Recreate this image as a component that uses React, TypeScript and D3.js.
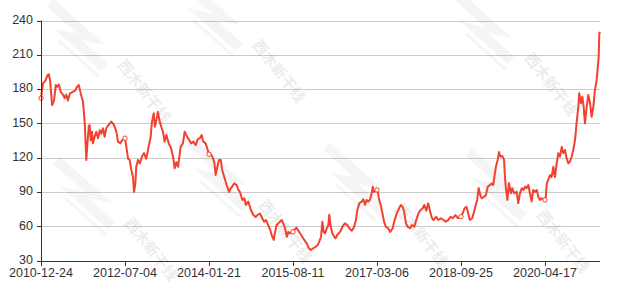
import React from 'react';
import * as d3 from 'd3';

const tickLabels = ['2010-12-24', '2012-07-04', '2014-01-21', '2015-08-11', '2017-03-06', '2018-09-25', '2020-04-17'];
const tickStep = 380;
const totalDays = 2530;
const yTicks = [30, 60, 90, 120, 150, 180, 210, 240];

const dayIndex = [
  0, 9, 19, 29, 35, 41, 50, 59, 67, 74, 81, 89, 100, 107, 114, 122, 130, 145, 155, 163, 171, 180, 190, 198, 205, 209,
  216, 220, 225, 231, 235, 243, 250, 258, 266, 273, 280, 288, 295, 306, 318, 330, 341, 348, 359, 366, 380, 386, 394,
  401, 409, 416, 421, 427, 431, 439, 447, 457, 466, 476, 487, 496, 502, 510, 515, 522, 529, 537, 544, 552, 559, 567,
  578, 589, 597, 605, 612, 620, 632, 642, 650, 662, 679, 689, 700, 709, 719, 727, 734, 745, 760, 765, 775, 784, 790,
  798, 805, 813, 820, 829, 840, 851, 858, 865, 874, 885, 893, 900, 911, 920, 927, 938, 950, 960, 971, 980, 991, 1001,
  1010, 1018, 1028, 1037, 1046, 1053, 1059, 1066, 1074, 1081, 1089, 1096, 1104, 1112, 1119, 1126, 1140, 1145, 1156,
  1161, 1172, 1182, 1191, 1202, 1212, 1221, 1232, 1243, 1252, 1259, 1267, 1273, 1279, 1285, 1293, 1300, 1304, 1311,
  1318, 1327, 1333, 1340, 1353, 1365, 1375, 1386, 1395, 1406, 1416, 1425, 1431, 1440, 1451, 1458, 1466, 1473, 1481,
  1488, 1496, 1501, 1506, 1520, 1525, 1530, 1537, 1545, 1552, 1560, 1571, 1580, 1591, 1598, 1609, 1618, 1628, 1636,
  1643, 1651, 1659, 1670, 1679, 1689, 1698, 1707, 1716, 1727, 1734, 1743, 1752, 1761, 1769, 1776, 1787, 1797, 1809,
  1821, 1831, 1842, 1853, 1863, 1875, 1886, 1900, 1905, 1916, 1925, 1933, 1940, 1951, 1961, 1973, 1980, 1987, 1994,
  2005, 2013, 2021, 2031, 2039, 2046, 2051, 2058, 2066, 2072, 2078, 2087, 2095, 2099, 2104, 2110, 2117, 2126, 2132,
  2141, 2152, 2159, 2167, 2175, 2182, 2190, 2197, 2205, 2212, 2220, 2227, 2235, 2243, 2250, 2257, 2265, 2280, 2284,
  2288, 2295, 2303, 2310, 2318, 2325, 2333, 2340, 2348, 2356, 2363, 2371, 2378, 2386, 2393, 2401, 2408, 2416, 2423,
  2431, 2435, 2443, 2449, 2455, 2461, 2469, 2476, 2484, 2491, 2499, 2506, 2514, 2518, 2523, 2526, 2529,
];

const price = [
  172, 185, 187, 192, 193, 188, 166, 170, 183.6, 182, 184, 177.7, 175, 172, 175, 170, 176, 177.7, 178.6, 182, 183.6,
  176, 169, 150, 118, 129.6, 147, 148.6, 135, 142.7, 132.5, 138.3, 142.7, 137, 144, 141, 145.7, 138.3, 145.7, 148.6,
  151.5, 148.6, 142.7, 134, 132.5, 135, 137, 129.6, 119, 118, 109, 103, 90, 97.5, 112, 118, 115, 121, 124, 119, 129.6,
  138, 151.5, 158.8, 147, 153, 160, 151.5, 147, 142.7, 134, 139.8, 132.5, 128, 121, 110.7, 116, 112, 129.6, 132.5,
  142.7, 138, 132.5, 134, 131, 136, 137, 139.8, 134, 132.5, 123, 124, 121, 116, 104.8, 112, 118, 118, 109, 103, 96,
  90, 93, 94.6, 97.5, 96, 91.7, 90, 83, 84.4, 78.6, 81.5, 74, 70, 68, 70, 71, 67, 64, 65.4, 61, 56.7, 50.8, 48, 55,
  61, 62.5, 64, 65.4, 62.5, 58.2, 50.8, 55, 53.8, 55, 56.7, 58.7, 57, 53.8, 50.8, 48, 45, 40.7, 39.2, 40.7, 42, 43.6,
  46.5, 50.8, 64, 55, 53.8, 58.2, 61, 70, 59.5, 53.8, 50.8, 49.4, 52.3, 55, 60, 62.5, 61, 58.2, 56, 59, 65.4, 74, 80,
  81.5, 83.5, 78.6, 83, 81.5, 83, 88.8, 94.6, 90, 91.7, 88.8, 83, 78.6, 71, 64, 59.5, 58.2, 55, 58.2, 64, 71, 74.8,
  78.6, 77, 72.7, 62.5, 59.5, 58.2, 61, 59.5, 65.4, 71, 74, 75.7, 78.6, 73.6, 80, 72.7, 67, 65.4, 68.3, 65.4, 67,
  65.4, 64, 65.4, 68.3, 67, 69.8, 67, 68.3, 69.8, 75.7, 77, 71, 65.4, 67, 74, 83, 93.5, 87.3, 84.4, 85.8, 87.3, 94.6,
  96, 97.5, 96, 103, 112, 118, 125, 121, 121.5, 118, 103, 91.7, 83, 97.5, 88.8, 93.2, 88.8, 90, 80, 88.8, 93.2, 91.7,
  94.6, 93.2, 96, 88.8, 81.5, 91.7, 90, 91.7, 85.8, 83, 84.4, 83, 85.8, 97.5, 100.4, 104.8, 103, 112, 103, 115, 123.8,
  121, 129.6, 123.8, 126.7, 119.4, 115, 116.5, 121, 126.7, 135.4, 150, 164.6, 176.3, 167.6, 173.3, 164.6, 150, 164.6,
  174.8, 167.6, 155.8, 164.6, 179, 188, 196.7, 208, 228.8, 230,
];

const watermarks: [number, number][] = [
  [143, 92], [278, 72], [550, 85], [150, 250], [284, 232], [420, 236], [562, 242],
];

const W = 617;
const H = 288;
const left = 41;
const right = 600;
const top = 20.5;
const bottom = 260.5;

export default function App() {
  const x = d3.scaleLinear().domain([0, totalDays - 1]).range([left, right]);
  const y = d3.scaleLinear().domain([30, 240]).range([bottom, top]);
  const pts = dayIndex.map((d, i) => [d, price[i]] as [number, number]);
  const line = d3
    .line<[number, number]>()
    .x((d) => x(d[0]))
    .y((d) => y(d[1]));
  const ticks = tickLabels.map((lab, i) => ({ lab, idx: i * tickStep }));
  const font = '"Liberation Sans", Arial, sans-serif';

  return (
    <svg width={W} height={H} style={{ position: 'absolute', left: 0, top: 0, background: '#fff' }}>
      <rect x={0} y={0} width={W} height={H} fill="#fff" />
      {/* grid */}
      {yTicks.slice(1).map((t) => (
        <line key={t} x1={left} x2={right} y1={Math.round(y(t)) + 0.5} y2={Math.round(y(t)) + 0.5} stroke="#ccc" />
      ))}
      {/* watermarks */}
      {watermarks.map(([cx, cy], i) => (
        <g key={i}>
          <g transform={`translate(${cx - 68},${cy - 55}) rotate(42)`} opacity={0.035} fill="#000">
            <polygon points="-42,-14 28,-14 6,-2 42,-2 42,8 -22,8 0,-4 -42,-4" />
            <polygon points="-10,12 44,12 44,15 -10,15" />
          </g>
          <text
            transform={`translate(${cx},${cy}) rotate(52)`}
            textAnchor="middle"
            dominantBaseline="middle"
            fontSize={15}
            fontWeight="bold"
            fontFamily='"Noto Sans CJK SC", sans-serif'
            fill="#000"
            opacity={0.07}
          >
            西木新干线
          </text>
        </g>
      ))}
      {/* line */}
      <path d={line(pts) || ''} fill="none" stroke="#f2412f" strokeWidth={2} strokeLinejoin="round" />
      {/* symbols at labelled points */}
      {ticks.map(({ idx }) => {
        const k = dayIndex.indexOf(idx);
        if (k < 0) return null;
        return <circle key={idx} cx={x(idx)} cy={y(price[k])} r={2.2} fill="#fff" stroke="#f2412f" strokeWidth={1} />;
      })}
      {/* y axis */}
      <line x1={left + 0.5} x2={left + 0.5} y1={top} y2={bottom + 0.5} stroke="#333" />
      {yTicks.map((t) => (
        <g key={t}>
          <line x1={left - 4} x2={left} y1={Math.round(y(t)) + 0.5} y2={Math.round(y(t)) + 0.5} stroke="#333" />
          <text x={left - 8} y={y(t)} textAnchor="end" dominantBaseline="middle" fontSize={12.5} fontFamily={font} fill="#333">
            {t}
          </text>
        </g>
      ))}
      {/* x axis */}
      <line x1={left} x2={right} y1={Math.round(bottom) + 0.5} y2={Math.round(bottom) + 0.5} stroke="#333" />
      {ticks.map(({ lab, idx }) => (
        <g key={lab}>
          <line
            x1={Math.round(x(idx)) + 0.5}
            x2={Math.round(x(idx)) + 0.5}
            y1={Math.round(bottom) + 0.5}
            y2={Math.round(bottom) + 5}
            stroke="#333"
          />
          <text x={x(idx)} y={277} textAnchor="middle" fontSize={12.5} fontFamily={font} fill="#333">
            {lab}
          </text>
        </g>
      ))}
    </svg>
  );
}
